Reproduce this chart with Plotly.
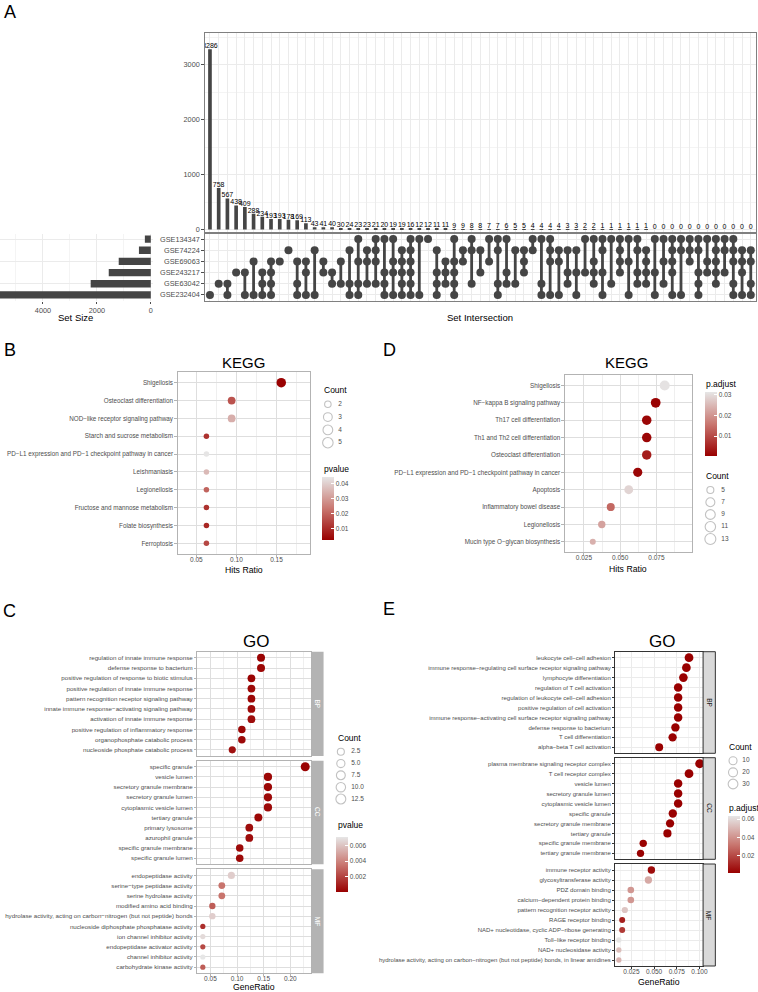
import plotly.graph_objects as go
import numpy as np

FONT = "Liberation Sans, Arial, sans-serif"
W, H = 758, 992
DARK = "#454545"
GREY30 = "#4D4D4D"

# ---------------- A: UpSet plot ----------------
sets = ["GSE134347", "GSE74224", "GSE69063", "GSE243217", "GSE63042", "GSE232404"]
set_sizes = [220, 440, 1190, 1560, 2230, 5600]
inter_counts = [3286, 758, 567, 438, 409, 288, 234, 193, 193, 178, 169, 113,
                43, 41, 40, 30, 24, 23, 23, 21, 20, 19, 19, 16, 12, 12, 11, 11,
                9, 9, 8, 8, 7, 7, 6, 5, 5, 4, 4, 4, 4, 3, 3, 2, 2,
                1, 1, 1, 1, 1, 1, 0, 0, 0, 0, 0, 0, 0, 0, 0, 0, 0, 0]
# members of each intersection: digits are positions in `sets` (1 = top row)
inter_sets = ["6", "5", "56", "4", "46", "36", "456", "3456", "3", "2", "356", "346",
              "26", "34", "45", "35", "256", "1356", "235", "1235", "1456", "1346", "23456", "123456",
              "16", "1", "2456", "345", "13456", "23", "125", "24", "13", "1256", "145", "25", "234",
              "12", "156", "1236", "236", "245", "246", "14", "1345", "1246", "15", "1234", "136",
              "1245", "2345", "146", "135", "12346", "126", "123", "12456", "134", "12345", "124",
              "12356", "2346", "2356"]

# ---------------- B: KEGG (left) ----------------
kegg_b_terms = ["Shigellosis", "Osteoclast differentiation", "NOD\u2212like receptor signaling pathway",
                "Starch and sucrose metabolism", "PD\u2212L1 expression and PD\u22121 checkpoint pathway in cancer",
                "Leishmaniasis", "Legionellosis", "Fructose and mannose metabolism",
                "Folate biosynthesis", "Ferroptosis"]
kegg_b_ratio = [0.156, 0.094, 0.094, 0.0625, 0.0625, 0.0625, 0.0625, 0.0625, 0.0625, 0.0625]
kegg_b_count = [5, 3, 3, 2, 2, 2, 2, 2, 2, 2]
kegg_b_pvalue = [0.0025, 0.017, 0.034, 0.011, 0.0445, 0.036, 0.020, 0.011, 0.009, 0.015]

# ---------------- D: KEGG (right) ----------------
kegg_d_terms = ["Shigellosis", "NF\u2212kappa B signaling pathway", "Th17 cell differentiation",
                "Th1 and Th2 cell differentiation", "Osteoclast differentiation",
                "PD\u2212L1 expression and PD\u22121 checkpoint pathway in cancer", "Apoptosis",
                "Inflammatory bowel disease", "Legionellosis", "Mucin type O\u2212glycan biosynthesis"]
kegg_d_ratio = [0.0807, 0.0745, 0.0683, 0.0683, 0.0683, 0.0621, 0.0559, 0.0435, 0.0373, 0.0311]
kegg_d_count = [13, 12, 11, 11, 11, 10, 9, 7, 6, 5]
kegg_d_padj = [0.031, 0.0008, 0.0012, 0.0012, 0.004, 0.0012, 0.029, 0.014, 0.022, 0.024]

# ---------------- C: GO (left) ----------------
go_c_bp_terms = ["regulation of innate immune response", "defense response to bacterium",
                 "positive regulation of response to biotic stimulus",
                 "positive regulation of innate immune response",
                 "pattern recognition receptor signaling pathway",
                 "innate immune response\u2212activating signaling pathway",
                 "activation of innate immune response", "positive regulation of inflammatory response",
                 "organophosphate catabolic process", "nucleoside phosphate catabolic process"]
go_c_bp_ratio = [0.145, 0.145, 0.127, 0.127, 0.127, 0.127, 0.127, 0.109, 0.109, 0.091]
go_c_bp_count = [8, 8, 7, 7, 7, 7, 7, 6, 6, 5]
go_c_bp_pvalue = [0.0001, 0.0002, 0.0001, 0.0003, 0.0002, 0.0003, 0.0004, 0.0002, 0.0003, 0.0005]

go_c_cc_terms = ["specific granule", "vesicle lumen", "secretory granule membrane", "secretory granule lumen",
                 "cytoplasmic vesicle lumen", "tertiary granule", "primary lysosome", "azurophil granule",
                 "specific granule membrane", "specific granule lumen"]
go_c_cc_ratio = [0.228, 0.158, 0.158, 0.158, 0.158, 0.140, 0.123, 0.123, 0.105, 0.105]
go_c_cc_count = [13, 9, 9, 9, 9, 8, 7, 7, 6, 6]
go_c_cc_pvalue = [0.0001, 0.0002, 0.0002, 0.0003, 0.0003, 0.0002, 0.0004, 0.0004, 0.0003, 0.0003]

go_c_mf_terms = ["endopeptidase activity", "serine\u2212type peptidase activity", "serine hydrolase activity",
                 "modified amino acid binding",
                 "hydrolase activity, acting on carbon\u2212nitrogen (but not peptide) bonds",
                 "nucleoside diphosphate phosphatase activity", "ion channel inhibitor activity",
                 "endopeptidase activator activity", "channel inhibitor activity", "carbohydrate kinase activity"]
go_c_mf_ratio = [0.0893, 0.0714, 0.0714, 0.0536, 0.0536, 0.0357, 0.0357, 0.0357, 0.0357, 0.0357]
go_c_mf_count = [5, 4, 4, 3, 3, 2, 2, 2, 2, 2]
go_c_mf_pvalue = [0.0064, 0.0035, 0.0035, 0.0028, 0.0064, 0.0014, 0.0068, 0.0022, 0.0072, 0.0028]

# ---------------- E: GO (right) ----------------
go_e_bp_terms = ["leukocyte cell\u2212cell adhesion",
                 "immune response\u2212regulating cell surface receptor signaling pathway",
                 "lymphocyte differentiation", "regulation of T cell activation",
                 "regulation of leukocyte cell\u2212cell adhesion", "positive regulation of cell activation",
                 "immune response\u2212activating cell surface receptor signaling pathway",
                 "defense response to bacterium", "T cell differentiation", "alpha\u2212beta T cell activation"]
go_e_bp_ratio = [0.0885, 0.0856, 0.0823, 0.0765, 0.0765, 0.0765, 0.0765, 0.0735, 0.0704, 0.0556]
go_e_bp_count = [30, 29, 28, 26, 26, 26, 26, 25, 24, 19]
go_e_bp_padj = [0.0002, 0.0003, 0.0002, 0.0004, 0.0003, 0.0005, 0.0004, 0.0006, 0.0003, 0.0008]

go_e_cc_terms = ["plasma membrane signaling receptor complex", "T cell receptor complex", "vesicle lumen",
                 "secretory granule lumen", "cytoplasmic vesicle lumen", "specific granule",
                 "secretory granule membrane", "tertiary granule", "specific granule membrane",
                 "tertiary granule membrane"]
go_e_cc_ratio = [0.1003, 0.0885, 0.0765, 0.0765, 0.0765, 0.0706, 0.0676, 0.0647, 0.0380, 0.0350]
go_e_cc_count = [34, 30, 26, 26, 26, 24, 23, 22, 13, 12]
go_e_cc_padj = [0.0003, 0.0004, 0.0005, 0.0005, 0.0005, 0.0008, 0.0006, 0.0009, 0.0012, 0.0010]

go_e_mf_terms = ["immune receptor activity", "glycosyltransferase activity", "PDZ domain binding",
                 "calcium\u2212dependent protein binding", "pattern recognition receptor activity",
                 "RAGE receptor binding", "NAD+ nucleotidase, cyclic ADP\u2212ribose generating",
                 "Toll\u2212like receptor binding", "NAD+ nucleosidase activity",
                 "hydrolase activity, acting on carbon\u2212nitrogen (but not peptide) bonds, in linear amidines"]
go_e_mf_ratio = [0.0470, 0.0437, 0.0243, 0.0243, 0.0177, 0.0148, 0.0148, 0.0111, 0.0111, 0.0111]
go_e_mf_count = [13, 12, 7, 7, 5, 4, 4, 3, 3, 3]
go_e_mf_padj = [0.004, 0.046, 0.041, 0.041, 0.054, 0.009, 0.016, 0.063, 0.052, 0.049]

CS = [[0, "#990000"], [0.5, "#C97770"], [1, "#E6E6E6"]]
LIGHT = dict(border="#B3B3B3", grid="#DEDEDE", minor="#EFEFEF", tick="#B3B3B3")
BW = dict(border="#333333", grid="#EBEBEB", minor="#F5F5F5", tick="#333333")


def fx(p):
    return min(max(p / W, 0), 1)


def fy(p):
    return min(max(1 - p / H, 0), 1)


def dom_x(a, b):
    return [fx(a), fx(b)]


def dom_y(top, bottom):
    return [fy(bottom), fy(top)]


fig = go.Figure()
lay = dict(width=W, height=H, margin=dict(l=0, r=0, t=0, b=0), template="none",
           paper_bgcolor="white", plot_bgcolor="white", showlegend=False,
           font=dict(family=FONT, color="black"))
ann = []
shp = []


def text(t, x, y, size, color="black", xanchor="center", angle=0):
    ann.append(dict(text=t, x=fx(x), y=fy(y), xref="paper", yref="paper", showarrow=False,
                    xanchor=xanchor, yanchor="middle", textangle=angle,
                    font=dict(size=size, color=color, family=FONT)))


# ---- A: intersection bars ----
n_int = len(inter_counts)
cols = list(range(n_int))
xr = [-0.6, n_int - 0.4]
lay["xaxis"] = dict(domain=dom_x(205, 757), range=xr, anchor="y", tickvals=cols, showticklabels=False,
                    ticks="", showgrid=True, gridcolor="#EBEBEB", zeroline=False,
                    showline=True, mirror=True, linecolor="#808080", linewidth=1)
lay["yaxis"] = dict(domain=dom_y(33, 231.5), range=[-36, 3582], anchor="x", tickmode="linear", tick0=0,
                    dtick=1000, ticks="outside", ticklen=2.5, tickcolor=GREY30, tickformat="d",
                    tickfont=dict(size=7.3, color=GREY30), showgrid=True, gridcolor="#EBEBEB",
                    minor=dict(dtick=500, tick0=0, showgrid=True, gridcolor="#F4F4F4"),
                    zeroline=False, showline=True, mirror=True, linecolor="#808080", linewidth=1)
fig.add_trace(go.Bar(x=cols, y=inter_counts, width=0.42, marker=dict(color=DARK, line_width=0),
                     text=[str(v) for v in inter_counts], textposition="outside",
                     textfont=dict(size=7, color="black"), cliponaxis=True, constraintext="none",
                     xaxis="x", yaxis="y", hoverinfo="skip"))

# ---- A: matrix ----
lay["xaxis2"] = dict(domain=dom_x(205, 757), range=xr, anchor="y2", tickvals=cols, showticklabels=False,
                     ticks="", showgrid=True, gridcolor="#EBEBEB", zeroline=False,
                     showline=True, mirror=True, linecolor="#808080", linewidth=1)
lay["yaxis2"] = dict(domain=dom_y(233.5, 300.5), type="category", categoryorder="array", categoryarray=sets,
                     range=[len(sets) - 0.5, -0.5], anchor="x2", ticks="outside", ticklen=2.5,
                     tickcolor=GREY30, tickfont=dict(size=7.3, color=GREY30), showgrid=True,
                     gridcolor="#EBEBEB", zeroline=False, showline=True, mirror=True,
                     linecolor="#808080", linewidth=1)
dot_x, dot_y, seg_x, seg_y = [], [], [], []
for i, members in enumerate(inter_sets):
    rows = sorted(int(c) - 1 for c in members)
    for r in rows:
        dot_x.append(i)
        dot_y.append(sets[r])
    if len(rows) > 1:
        seg_x += [i, i, None]
        seg_y += [sets[rows[0]], sets[rows[-1]], None]
fig.add_trace(go.Scatter(x=seg_x, y=seg_y, mode="lines", line=dict(color=DARK, width=2.8),
                         xaxis="x2", yaxis="y2", hoverinfo="skip"))
fig.add_trace(go.Scatter(x=dot_x, y=dot_y, mode="markers", marker=dict(color=DARK, size=8, line_width=0),
                         xaxis="x2", yaxis="y2", hoverinfo="skip"))

# ---- A: set size ----
lay["xaxis3"] = dict(domain=dom_x(0, 153), range=[5593, -74], anchor="y3", tickvals=[0, 2000, 4000],
                     tickformat="d", ticks="outside", ticklen=2.5, tickcolor=GREY30,
                     tickfont=dict(size=7.3, color=GREY30), showgrid=True, gridcolor="#EBEBEB",
                     minor=dict(dtick=1000, tick0=0, showgrid=True, gridcolor="#F4F4F4"),
                     zeroline=False, showline=False)
lay["yaxis3"] = dict(domain=dom_y(233.5, 300.5), type="category", categoryorder="array", categoryarray=sets,
                     range=[len(sets) - 0.5, -0.5], anchor="x3", showticklabels=False, ticks="",
                     showgrid=True, gridcolor="#EBEBEB", zeroline=False, showline=False)
fig.add_trace(go.Bar(x=set_sizes, y=sets, orientation="h", width=0.66, marker=dict(color=DARK, line_width=0),
                     xaxis="x3", yaxis="y3", hoverinfo="skip"))
text("Set Size", 76, 317, 9.5)
text("Set Intersection", 481, 317, 9.5)


# ---- dot plot helpers ----
def sizer(lo, hi, dmin, dmax):
    return lambda c: dmin + (dmax - dmin) * np.sqrt(max(c - lo, 0) / (hi - lo))


def dot_facet(k, x_dom, y_top, y_bot, terms, ratio, count, val, cax, sz, x_range, tick0, dtick, fmt,
              style, ysize, show_x):
    xa, ya = "x%d" % k, "y%d" % k
    fig.add_trace(go.Scatter(x=ratio, y=terms, mode="markers", xaxis=xa, yaxis=ya, hoverinfo="skip",
                             marker=dict(size=[sz(c) for c in count], color=val, coloraxis=cax,
                                         line=dict(width=0), opacity=1)))
    lay["xaxis%d" % k] = dict(domain=x_dom, range=x_range, anchor=ya, tickmode="linear", tick0=tick0,
                              dtick=dtick, tickformat=fmt, showticklabels=show_x,
                              ticks="outside" if show_x else "", ticklen=2, tickcolor=style["tick"],
                              ticklabelstandoff=-3,
                              tickfont=dict(size=6.5, color=GREY30), showgrid=True, gridcolor=style["grid"],
                              minor=dict(dtick=dtick / 2, tick0=tick0, showgrid=True, gridcolor=style["minor"]),
                              zeroline=False, showline=True, mirror=True, linecolor=style["border"], linewidth=1)
    lay["yaxis%d" % k] = dict(domain=dom_y(y_top, y_bot), type="category", categoryorder="array",
                              categoryarray=terms, range=[len(terms) - 0.4, -0.6], anchor=xa,
                              ticks="outside", ticklen=2.5, tickcolor=style["tick"],
                              tickfont=dict(size=ysize, color=GREY30), showgrid=True, gridcolor=style["grid"],
                              zeroline=False, showline=True, mirror=True, linecolor=style["border"], linewidth=1)


def size_legend(k, cx, y_first, y_last, vals, labels, sz, dx):
    n = len(vals)
    step = (y_last - y_first) / (n - 1)
    xa, ya = "x%d" % k, "y%d" % k
    lay["xaxis%d" % k] = dict(domain=dom_x(cx - 8, cx + 20), range=[-8, 20], visible=False, anchor=ya)
    lay["yaxis%d" % k] = dict(domain=dom_y(y_first - step / 2, y_last + step / 2), type="category",
                              categoryorder="array", categoryarray=labels, range=[n - 0.5, -0.5],
                              visible=False, anchor=xa)
    fig.add_trace(go.Scatter(x=[0] * n, y=labels, mode="markers", xaxis=xa, yaxis=ya, hoverinfo="skip",
                             cliponaxis=False,
                             marker=dict(symbol="circle-open", size=[sz(v) + 1 for v in vals],
                                         color="#A6A6A6", line=dict(width=1.1))))
    fig.add_trace(go.Scatter(x=[dx] * n, y=labels, mode="text", text=labels, textposition="middle right",
                             textfont=dict(size=6.5, color=GREY30), xaxis=xa, yaxis=ya, hoverinfo="skip",
                             cliponaxis=False))


def cbar(x_left, top, bottom, vals, fmt):
    return dict(x=fx(x_left), xanchor="left", xpad=0, y=fy((top + bottom) / 2), yanchor="middle", ypad=0,
                len=bottom - top, lenmode="pixels", thickness=12, thicknessmode="pixels", outlinewidth=0,
                tickmode="array", tickvals=vals, ticktext=[fmt % v for v in vals], ticks="inside", ticklen=3,
                tickcolor="white", tickfont=dict(size=6.5, color=GREY30))


def strip(x0, x1, y0, y1, label, fill, line, txt):
    shp.append(dict(type="rect", xref="paper", yref="paper", x0=fx(x0), x1=fx(x1), y0=fy(y1), y1=fy(y0),
                    fillcolor=fill, line=dict(color=line or fill, width=1 if line else 0), layer="above"))
    text(label, (x0 + x1) / 2, (y0 + y1) / 2, 6.5, txt, angle=90)


# ---- B ----
sz_b = sizer(2, 5, 5.5, 9.5)
dot_facet(4, dom_x(178, 310), 372, 554, kegg_b_terms, kegg_b_ratio, kegg_b_count, kegg_b_pvalue,
          "coloraxis", sz_b, [0.0267, 0.1914], 0.05, 0.05, ".2f", LIGHT, 6.3, True)
size_legend(5, 328.3, 404.3, 442.7, [2, 3, 4, 5], ["2", "3", "4", "5"], sz_b, 10.4)
lay["coloraxis"] = dict(colorscale=CS, cmin=0.0021, cmax=0.0447,
                        colorbar=cbar(322, 477, 540, [0.01, 0.02, 0.03, 0.04], "%.2f"))
text("KEGG", 244, 362, 15)
text("Hits Ratio", 244, 570, 8.7)
text("Count", 322, 390.3, 8.5, xanchor="left")
text("pvalue", 322, 469.3, 8.5, xanchor="left")

# ---- D ----
sz_d = sizer(5, 13, 6, 10)
dot_facet(6, dom_x(565.7, 693.3), 375, 552.3, kegg_d_terms, kegg_d_ratio, kegg_d_count, kegg_d_padj,
          "coloraxis2", sz_d, [0.0119, 0.0998], 0.025, 0.025, ".3f", LIGHT, 6.3, True)
size_legend(7, 711.3, 490, 539, [5, 7, 9, 11, 13], ["5", "7", "9", "11", "13"], sz_d, 11)
lay["coloraxis2"] = dict(colorscale=CS, cmin=0.0004, cmax=0.0315,
                         colorbar=cbar(705.3, 392, 455.7, [0.01, 0.02, 0.03], "%.2f"))
text("KEGG", 627, 362, 15)
text("Hits Ratio", 629, 568.5, 8.7)
text("p.adjust", 705.3, 384, 8.5, xanchor="left")
text("Count", 705.3, 475.7, 8.5, xanchor="left")

# ---- C ----
sz_c = sizer(2, 13, 5.2, 9)
c_rng = [0.0256, 0.2394]
c_facets = [("BP", 651.7, 756, go_c_bp_terms, go_c_bp_ratio, go_c_bp_count, go_c_bp_pvalue),
            ("CC", 760.7, 864.3, go_c_cc_terms, go_c_cc_ratio, go_c_cc_count, go_c_cc_pvalue),
            ("MF", 869.3, 973.3, go_c_mf_terms, go_c_mf_ratio, go_c_mf_count, go_c_mf_pvalue)]
for j, (lab, t, b, terms, ratio, cnt, pv) in enumerate(c_facets):
    dot_facet(8 + j, dom_x(197.7, 311.7), t, b, terms, ratio, cnt, pv, "coloraxis3", sz_c, c_rng,
              0.05, 0.05, ".2f", LIGHT, 6.2, j == 2)
    strip(311.7, 324, t, b, lab, "#B3B3B3", None, "white")
size_legend(11, 341.3, 751.7, 799, [2.5, 5, 7.5, 10, 12.5], ["2.5", "5.0", "7.5", "10.0", "12.5"], sz_c, 10.4)
lay["coloraxis3"] = dict(colorscale=CS, cmin=0.0, cmax=0.0072,
                         colorbar=cbar(336, 836.7, 891.7, [0.002, 0.004, 0.006], "%.3f"))
text("GO", 256.7, 641.7, 17)
text("GeneRatio", 254.7, 987, 8.7)
text("Count", 336, 737.7, 8.5, xanchor="left")
text("pvalue", 336, 825, 8.5, xanchor="left")

# ---- E ----
sz_e = sizer(3, 34, 5.3, 9)
e_rng = [0.0074, 0.104]
e_facets = [("BP", 651.7, 753.3, go_e_bp_terms, go_e_bp_ratio, go_e_bp_count, go_e_bp_padj),
            ("CC", 757.7, 859.3, go_e_cc_terms, go_e_cc_ratio, go_e_cc_count, go_e_cc_padj),
            ("MF", 864, 966, go_e_mf_terms, go_e_mf_ratio, go_e_mf_count, go_e_mf_padj)]
for j, (lab, t, b, terms, ratio, cnt, pv) in enumerate(e_facets):
    dot_facet(12 + j, dom_x(616.3, 704), t, b, terms, ratio, cnt, pv, "coloraxis4", sz_e, e_rng,
              0.025, 0.025, ".3f", BW, 6.0, j == 2)
    strip(704, 716.3, t, b, lab, "#D9D9D9", "#333333", "#1A1A1A")
size_legend(15, 734, 760.7, 784, [10, 20, 30], ["10", "20", "30"], sz_e, 9.3)
lay["coloraxis4"] = dict(colorscale=CS, cmin=0.0008, cmax=0.0633,
                         colorbar=cbar(728.3, 816, 873.3, [0.02, 0.04, 0.06], "%.2f"))
text("GO", 663, 641.7, 17)
text("GeneRatio", 660, 981.5, 8.7)
text("Count", 728.3, 746.7, 8.5, xanchor="left")
text("p.adjust", 728.3, 808, 8.5, xanchor="left")

# ---- panel letters ----
for letter, x, y in [("A", 10, 12), ("B", 10, 350), ("D", 390, 350), ("C", 10, 611), ("E", 390, 609)]:
    text(letter, x, y, 18)

lay["annotations"] = ann
lay["shapes"] = shp
fig.update_layout(**lay)

fig.write_html("out.html", config={"displayModeBar": False},
               post_script="document.body.style.margin='0';document.body.style.overflow='hidden';")
